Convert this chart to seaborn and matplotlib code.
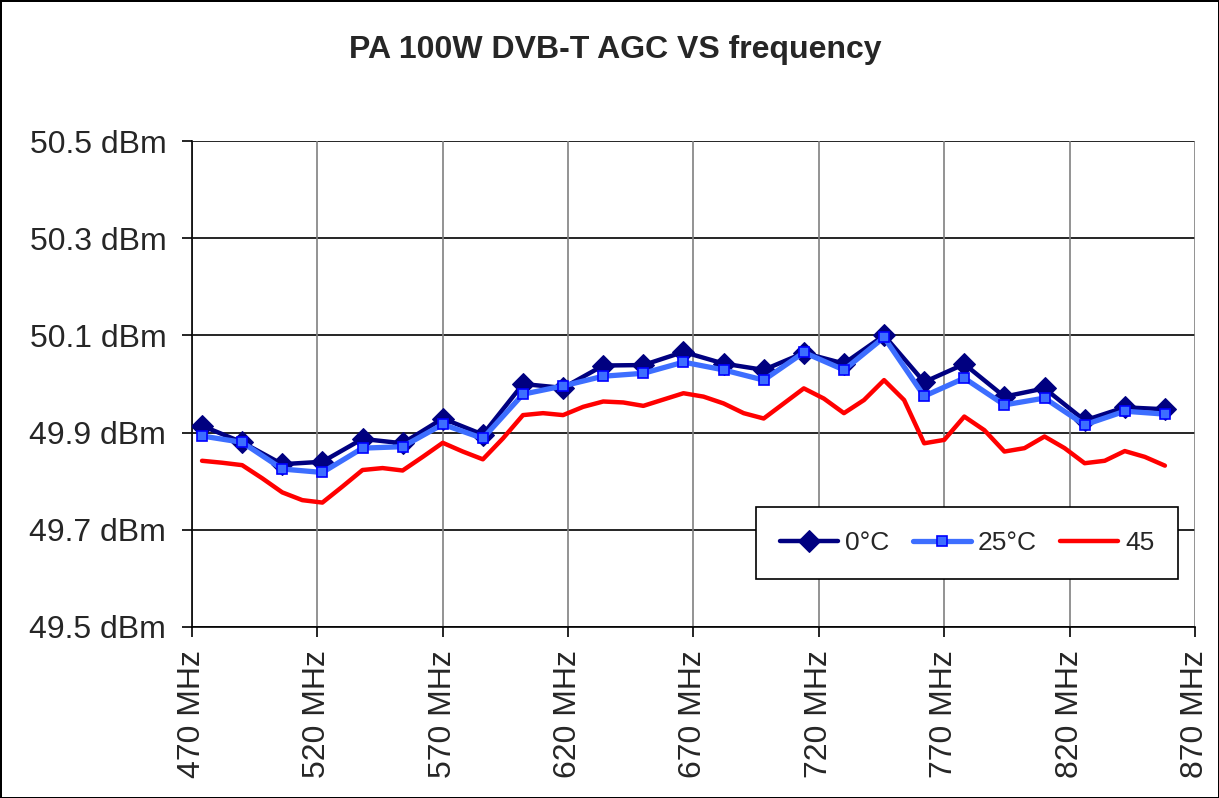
import numpy as np
import pandas as pd
import matplotlib
matplotlib.use("Agg")
import matplotlib.pyplot as plt
import seaborn as sns

# frequencies (MHz): markers every 2 channels, red curve every channel
freq_step2 = list(range(474, 859, 16))
freq_step1 = list(range(474, 859, 8))

agc_0c = [49.914, 49.880, 49.835, 49.840, 49.887, 49.878, 49.929, 49.896, 50.000,
          49.992, 50.038, 50.039, 50.066, 50.042, 50.029, 50.064, 50.042, 50.100,
          50.004, 50.041, 49.974, 49.991, 49.925, 49.952, 49.948]
agc_25c = [49.893, 49.880, 49.825, 49.818, 49.868, 49.871, 49.917, 49.888, 49.979,
           49.996, 50.016, 50.022, 50.045, 50.029, 50.008, 50.065, 50.029, 50.096,
           49.975, 50.012, 49.957, 49.971, 49.916, 49.944, 49.938]
agc_45 = [49.842, 49.838, 49.833, 49.806, 49.777, 49.761, 49.756, 49.789, 49.823,
          49.827, 49.822, 49.850, 49.879, 49.861, 49.845, 49.888, 49.936, 49.940,
          49.936, 49.953, 49.964, 49.962, 49.955, 49.968, 49.981, 49.974, 49.960,
          49.940, 49.929, 49.960, 49.991, 49.970, 49.940, 49.967, 50.008, 49.967,
          49.878, 49.885, 49.933, 49.905, 49.861, 49.868, 49.892, 49.868, 49.837,
          49.842, 49.862, 49.850, 49.832]

x_ticks = list(range(470, 871, 50))
y_ticks = [49.5, 49.7, 49.9, 50.1, 50.3, 50.5]

sns.set_style("white")
plt.rcParams['font.family'] = ['Liberation Sans', 'DejaVu Sans']

fig = plt.figure(figsize=(12.19, 7.98), dpi=100)
fig.patch.set_edgecolor("black")
fig.patch.set_linewidth(2)
ax = fig.add_axes([0.1575, 0.2143, 0.9803 - 0.1575, 0.8233 - 0.2143])

df0 = pd.DataFrame({"f": freq_step2, "v": agc_0c})
df25 = pd.DataFrame({"f": freq_step2, "v": agc_25c})
df45 = pd.DataFrame({"f": freq_step1, "v": agc_45})

sns.lineplot(data=df0, x="f", y="v", ax=ax, color="#000080", lw=3.2,
             marker="D", markersize=11, markeredgecolor="#000080",
             markerfacecolor="#000080", label="0°C", zorder=4)
sns.lineplot(data=df25, x="f", y="v", ax=ax, color="#3D6EFF", lw=3.8,
             marker="s", markersize=7.5, markeredgecolor="#0000FF",
             markeredgewidth=1.2, markerfacecolor="#3D6EFF", label="25°C", zorder=5)
sns.lineplot(data=df45, x="f", y="v", ax=ax, color="#FF0000", lw=3.2,
             label="45", zorder=3)

ax.set_xlim(470, 870)
ax.set_ylim(49.5, 50.5)
ax.set_xticks(x_ticks)
ax.set_xticklabels([f"{t} MHz" for t in x_ticks], rotation=90, fontsize=23)
ax.set_yticks(y_ticks)
ax.set_yticklabels([f"{t:.1f} dBm" for t in y_ticks], fontsize=23)
ax.tick_params(axis="both", direction="out", length=7.5, width=1.2, color="black",
               left=True, bottom=True)
ax.tick_params(axis="y", pad=11)
ax.tick_params(axis="x", pad=9)

for t in y_ticks:
    ax.axhline(t, color="black", lw=1.2, zorder=1)
for t in x_ticks:
    ax.axvline(t, color="#808080", lw=1.2, zorder=1)

for s in ["top", "right"]:
    ax.spines[s].set_visible(False)
for s in ["left", "bottom"]:
    ax.spines[s].set_color("black")
    ax.spines[s].set_linewidth(1.2)

ax.set_xlabel("")
ax.set_ylabel("")

leg = ax.legend(loc="lower right", bbox_to_anchor=(0.983, 0.099), ncol=3,
                fontsize=19, frameon=True, fancybox=False, edgecolor="black",
                handlelength=2.2, columnspacing=0.9, handletextpad=0.25,
                borderpad=0.9, borderaxespad=0, framealpha=1)
leg.get_frame().set_linewidth(1.2)

fig.text(0.505, 0.937, "PA 100W DVB-T AGC VS frequency", fontsize=23,
         fontweight="bold", ha="center", va="center")

fig.savefig("out.png", dpi=100)
